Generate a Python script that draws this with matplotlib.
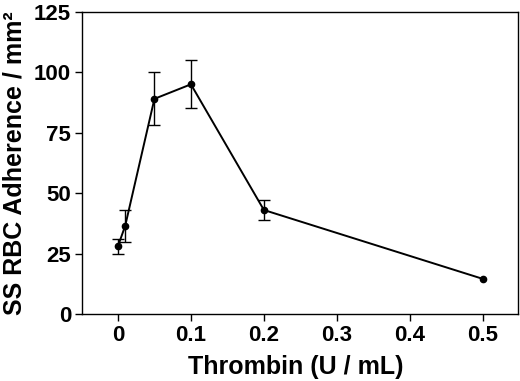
import matplotlib
matplotlib.use("Agg")
import matplotlib.pyplot as plt

thrombin = [0.0, 0.01, 0.05, 0.1, 0.2, 0.5]
adherence = [28.0, 36.5, 89.0, 95.0, 43.0, 14.5]
sem = [3.0, 6.6, 11.0, 10.0, 4.0, 0.0]
xticks = [0.0, 0.1, 0.2, 0.3, 0.4, 0.5]
xticklabels = ["0", "0.1", "0.2", "0.3", "0.4", "0.5"]
yticks = [0, 25, 50, 75, 100, 125]

plt.rcParams['font.family'] = ['Liberation Sans', 'DejaVu Sans']
fig = plt.figure(figsize=(5.2, 3.81), dpi=100)
ax = fig.add_axes([0.158, 0.176, 0.838, 0.793])
ax.plot(thrombin, adherence, color='black', lw=1.4, marker='o', ms=4.5)
ex = [x for x, e in zip(thrombin, sem) if e > 0]
ey = [y for y, e in zip(adherence, sem) if e > 0]
ee = [e for e in sem if e > 0]
ax.errorbar(ex, ey, yerr=ee, fmt='none', ecolor='black',
            capsize=4, elinewidth=1.0, capthick=1.0)
ax.set_xlim(-0.049, 0.548)
ax.set_ylim(0, 125)
ax.set_xticks(xticks)
ax.set_xticklabels(xticklabels)
ax.set_yticks(yticks)
for s in ax.spines.values():
    s.set_linewidth(1.0)
ax.tick_params(direction='out', length=5, width=1.0, labelsize=16, pad=3)
for lbl in ax.get_xticklabels() + ax.get_yticklabels():
    lbl.set_fontweight('bold')
ax.set_xlabel("Thrombin (U / mL)", fontsize=18, fontweight='bold')
ax.set_ylabel("SS RBC Adherence / mm²", fontsize=18, fontweight='bold')
ax.xaxis.set_label_coords(0.49, -0.137)
ax.yaxis.set_label_coords(-0.128, 0.5)
fig.savefig("out.png", dpi=100)
